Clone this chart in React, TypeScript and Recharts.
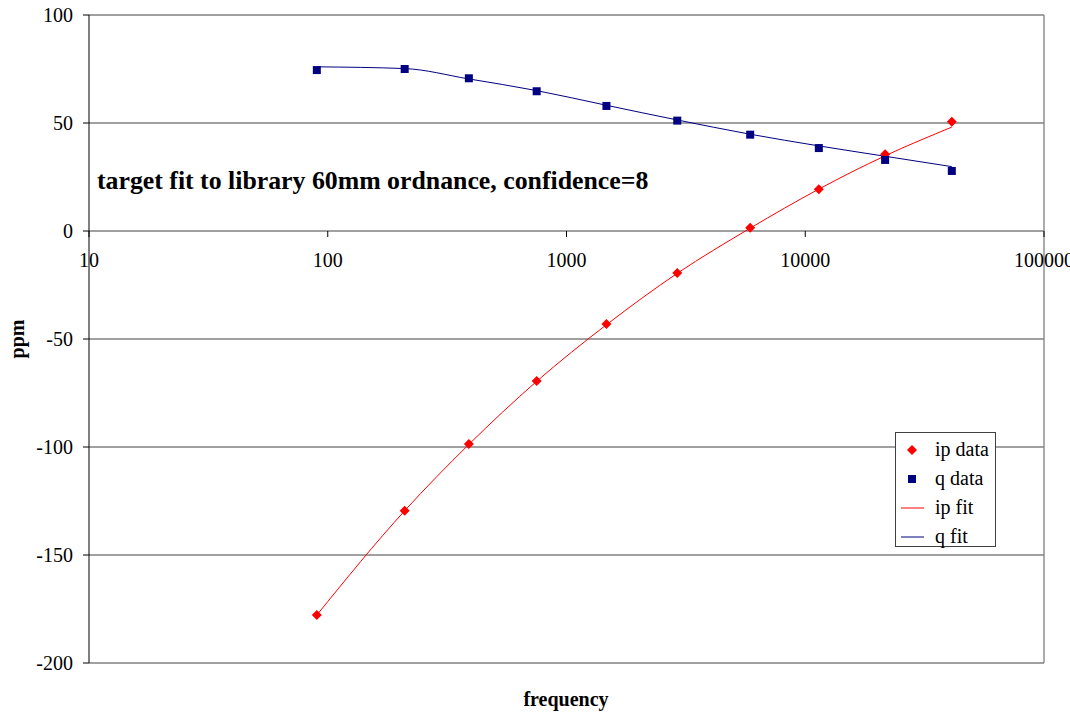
import { ComposedChart, Line, Scatter, XAxis, YAxis, CartesianGrid, Legend, ReferenceLine, ReferenceDot } from 'recharts';

// frequencies (Hz) of the measured points
const freq = [90, 210, 390, 750, 1470, 2910, 5880, 11400, 21600, 41100];
const ipData = [-177.8, -129.5, -98.6, -69.4, -43.1, -19.4, 1.5, 19.3, 35.5, 50.6];
const qData = [74.5, 75.0, 70.7, 64.7, 57.9, 51.1, 44.6, 38.4, 32.9, 27.8];
const ipFit = [-177.8, -129.5, -98.8, -69.6, -43.4, -19.6, 1.3, 19.4, 34.8, 48.1];
const qFit = [76.0, 75.2, 70.4, 65.0, 58.2, 51.4, 44.8, 39.4, 34.6, 29.8];

const xTicks = [10, 100, 1000, 10000, 100000];
const yTicks = [-200, -150, -100, -50, 0, 50, 100];

const FONT = '"Liberation Serif", "Times New Roman", serif';
const RED = '#ff0000';
const NAVY = '#000080';

const toRows = (vals: number[]) => freq.map((f, i) => ({ f, v: vals[i] }));

const Diamond = (props: any) => {
  const { cx, cy } = props;
  if (cx == null || cy == null) return <g />;
  return <polygon points={`${cx},${cy - 5} ${cx + 5},${cy} ${cx},${cy + 5} ${cx - 5},${cy}`} fill={RED} />;
};

const Square = (props: any) => {
  const { cx, cy } = props;
  if (cx == null || cy == null) return <g />;
  return <rect x={cx - 4} y={cy - 4} width={8} height={8} fill={NAVY} />;
};

// tick mark + label on the zero line
const XTick = (label: string) => (props: any) => {
  const { cx, cy } = props;
  return (
    <g>
      <line x1={cx} y1={cy} x2={cx} y2={cy + 6} stroke="#000" />
      <text x={cx} y={cy + 36} textAnchor="middle" fontSize={20} fontFamily={FONT} fill="#000">{label}</text>
    </g>
  );
};

const LegendBox = () => {
  const rows = [
    { name: 'ip data', kind: 'diamond' },
    { name: 'q data', kind: 'square' },
    { name: 'ip fit', kind: 'redline' },
    { name: 'q fit', kind: 'blueline' },
  ];
  return (
    <div style={{ width: 99, height: 113, border: '1px solid #404040', background: '#fff', boxSizing: 'content-box', fontFamily: FONT, fontSize: 20, color: '#000' }}>
      {rows.map((r, i) => (
        <div key={r.name} style={{ position: 'absolute', left: 0, top: 3 + i * 29, height: 29, display: 'flex', alignItems: 'center' }}>
          <svg width={40} height={29}>
            {r.kind === 'diamond' && <polygon points="17,10 22,15 17,20 12,15" fill={RED} />}
            {r.kind === 'square' && <rect x={13} y={11} width={8} height={8} fill={NAVY} />}
            {r.kind === 'redline' && <line x1={6} y1={15} x2={29} y2={15} stroke={RED} />}
            {r.kind === 'blueline' && <line x1={6} y1={15} x2={29} y2={15} stroke={NAVY} />}
          </svg>
          <span style={{ whiteSpace: 'nowrap' }}>{r.name}</span>
        </div>
      ))}
    </div>
  );
};

export default function App() {
  return (
    <div style={{ position: 'absolute', left: 0, top: 0, width: 1070, height: 719, background: '#fff', overflow: 'hidden' }}>
      <ComposedChart width={1070} height={719} margin={{ top: 15, right: 26, bottom: 56, left: 29 }}>
        <CartesianGrid vertical={false} stroke="#808080" strokeWidth={1.3} />
        <XAxis hide type="number" dataKey="f" scale="log" domain={[10, 100000]} ticks={xTicks} allowDataOverflow />
        <YAxis
          type="number"
          dataKey="v"
          domain={[-200, 100]}
          ticks={yTicks}
          width={60}
          tickSize={6}
          tickMargin={10}
          axisLine={{ stroke: '#000' }}
          tickLine={{ stroke: '#000' }}
          tick={{ fill: '#000', fontSize: 20, fontFamily: FONT }}
        />
        <ReferenceLine x={100000} stroke="#808080" strokeWidth={1.3} />
        <Line data={toRows(ipFit)} dataKey="v" type="monotone" stroke={RED} strokeWidth={1} dot={false} isAnimationActive={false} legendType="none" />
        <Line data={toRows(qFit)} dataKey="v" type="monotone" stroke={NAVY} strokeWidth={1} dot={false} isAnimationActive={false} legendType="none" />
        <Scatter data={toRows(ipData)} dataKey="v" shape={Diamond} isAnimationActive={false} />
        <Scatter data={toRows(qData)} dataKey="v" shape={Square} isAnimationActive={false} />
        {xTicks.map((t) => (
          <ReferenceDot key={t} x={t} y={0} r={0} shape={XTick(String(t))} ifOverflow="visible" />
        ))}
        <Legend
          layout="horizontal"
          verticalAlign="middle"
          align="center"
          content={LegendBox}
          wrapperStyle={{ position: 'absolute', left: 895, top: 432, width: 101, height: 115, margin: 0 }}
        />
      </ComposedChart>
      <div style={{ position: 'absolute', left: 97, top: 166, fontFamily: FONT, fontWeight: 'bold', fontSize: 25.8, whiteSpace: 'nowrap' }}>
        target fit to library 60mm ordnance, confidence=8
      </div>
      <div style={{ position: 'absolute', left: 566, top: 688, transform: 'translateX(-50%)', fontFamily: FONT, fontWeight: 'bold', fontSize: 20 }}>
        frequency
      </div>
      <div style={{ position: 'absolute', left: 17, top: 339, transform: 'translate(-50%, -50%) rotate(-90deg)', fontFamily: FONT, fontWeight: 'bold', fontSize: 20 }}>
        ppm
      </div>
    </div>
  );
}
